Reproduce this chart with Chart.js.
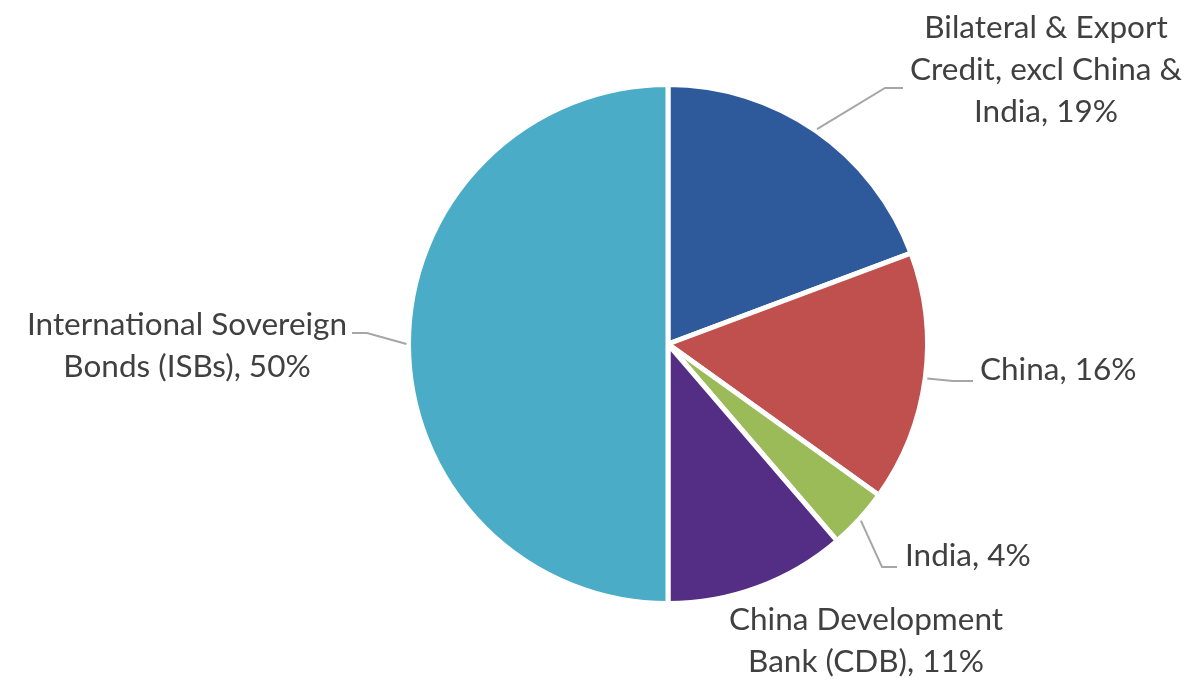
<!DOCTYPE html>
<html>
<head>
<meta charset="utf-8">
<script src="https://cdn.jsdelivr.net/npm/chart.js@4.4.3/dist/chart.umd.min.js"></script>
<style>
  html, body { margin: 0; padding: 0; background: #fff; }
  #wrap { width: 1200px; height: 687px; position: relative; }
</style>
</head>
<body>
<div id="wrap"><canvas id="debt-pie"></canvas></div>
<script>
const categories = [
  "Bilateral & Export Credit, excl China & India",
  "China",
  "India",
  "China Development Bank (CDB)",
  "International Sovereign Bonds (ISBs)",
];
const shares = [19.3, 15.6, 3.8, 11.3, 50.0];
const sliceColors = ["#2E5A9C", "#C0504D", "#9BBB59", "#532E84", "#4AACC6"];

// where each label sits and how its leader line bends (null elbow = no leader)
const labelLayout = [
  { words: [3, 4, 2], align: "center", x: 1046, y: 38, elbow: [885, 88], end: [903, 88] },
  { words: [2], align: "left", x: 980, y: 380, elbow: [953, 381], end: [973, 381] },
  { words: [2], align: "left", x: 905, y: 566, elbow: [882, 567], end: [897, 567] },
  { words: [2, 3], align: "center", x: 866, y: 630, elbow: null, end: null },
  { words: [2, 3], align: "center", x: 187, y: 335, elbow: [367, 333], end: [352, 333] },
];

const LABEL_FONT = "31.5px Lato";
const LINE_HEIGHT = 42;

function labelLines(index) {
  const words = `${categories[index]}, ${Math.round(shares[index])}%`.split(" ");
  const lines = [];
  let pos = 0;
  for (const count of labelLayout[index].words) {
    lines.push(words.slice(pos, pos + count).join(" "));
    pos += count;
  }
  return lines;
}

const outsideLabels = {
  id: "outsideLabels",
  afterDatasetsDraw(chart) {
    const { ctx } = chart;
    const arcs = chart.getDatasetMeta(0).data;
    ctx.save();
    arcs.forEach((arc, i) => {
      const layout = labelLayout[i];
      if (layout.elbow) {
        const mid = (arc.startAngle + arc.endAngle) / 2;
        const r = arc.outerRadius + 2;
        ctx.beginPath();
        ctx.moveTo(arc.x + Math.cos(mid) * r, arc.y + Math.sin(mid) * r);
        ctx.lineTo(layout.elbow[0], layout.elbow[1]);
        ctx.lineTo(layout.end[0], layout.end[1]);
        ctx.strokeStyle = "#A6A6A6";
        ctx.lineWidth = 2;
        ctx.stroke();
      }
      ctx.font = LABEL_FONT;
      ctx.fillStyle = "#404040";
      ctx.textAlign = layout.align;
      ctx.textBaseline = "alphabetic";
      labelLines(i).forEach((line, n) => {
        ctx.fillText(line, layout.x, layout.y + n * LINE_HEIGHT);
      });
    });
    ctx.restore();
  },
};

new Chart(document.getElementById("debt-pie"), {
  type: "pie",
  data: {
    labels: categories,
    datasets: [
      {
        data: shares,
        backgroundColor: sliceColors,
        borderColor: "#ffffff",
        borderWidth: 5,
      },
    ],
  },
  options: {
    responsive: true,
    maintainAspectRatio: false,
    animation: false,
    layout: {
      padding: { top: 82, bottom: 81, left: 406, right: 270 },
    },
    plugins: {
      legend: { display: false },
      tooltip: { enabled: false },
    },
  },
  plugins: [outsideLabels],
});
</script>
</body>
</html>
